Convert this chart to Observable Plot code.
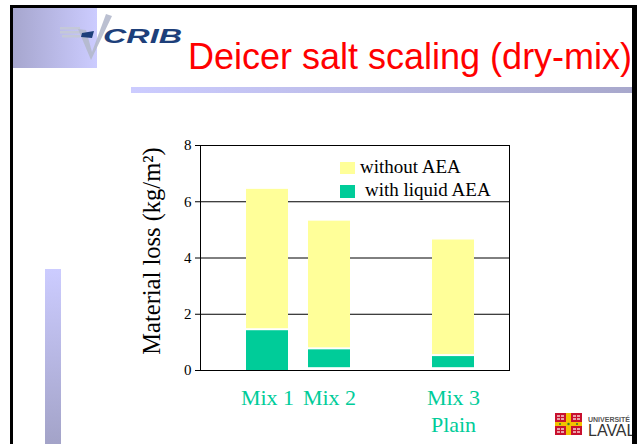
<!DOCTYPE html>
<html><head><meta charset="utf-8">
<script src="https://cdn.jsdelivr.net/npm/d3@7"></script>
<script src="https://cdn.jsdelivr.net/npm/@observablehq/plot@0.6"></script>
<style>
html,body{margin:0;padding:0;background:#fff;}
#slide{position:relative;width:642px;height:444px;overflow:hidden;background:#fff;}
.abs{position:absolute;}
.serif{font-family:'Liberation Serif','Times New Roman',serif;}
#chart{position:absolute;left:0;top:0;}
</style></head><body>
<div id="slide">
  <div class="abs" style="left:13px;top:8px;width:84px;height:60px;background:linear-gradient(to right,#a6a6ce,#ccccff);"></div>
  <svg class="abs" style="left:0;top:0" width="200" height="80">
    <g fill="#c4c8d8">
      <rect x="60" y="27" width="20" height="2.5"/>
      <rect x="60" y="31" width="20" height="2.5"/>
      <rect x="62" y="35" width="18" height="2.5"/>
    </g>
    <polygon points="78,29 86,30 92,52 106,14 112,16 91,60" fill="#b4b9cc" opacity="0.9"/>
    <polygon points="82,33 94,31 92,38 81,37" fill="#1d3f7a"/>
    <text x="103" y="43" font-family="'Liberation Sans',Arial,sans-serif" font-weight="bold" font-style="italic" font-size="21" fill="#1d3f7a" textLength="79" lengthAdjust="spacingAndGlyphs">CRIB</text>
  </svg>
  <div class="abs" style="left:188px;top:38.5px;font-family:'Liberation Sans',Arial,sans-serif;font-size:36px;line-height:36px;color:#ff0000;white-space:nowrap;">Deicer salt scaling (dry-mix)</div>
  <div class="abs" style="left:131px;top:87px;width:501px;height:6px;background:linear-gradient(to right,#ccccff,#a8a8cc);"></div>
  <div class="abs" style="left:45px;top:269px;width:16px;height:175px;background:linear-gradient(to bottom,#ccccff,#a3a3c8);"></div>
  <div id="chart"></div>
  <div class="abs" style="left:340px;top:162px;width:15px;height:12px;background:#ffff99;"></div>
  <div class="abs serif" style="left:360px;top:157px;font-size:19px;line-height:19px;white-space:nowrap;">without AEA</div>
  <div class="abs" style="left:340px;top:185px;width:15px;height:13px;background:#00cc99;"></div>
  <div class="abs serif" style="left:365px;top:180px;font-size:19px;line-height:19px;white-space:nowrap;">with liquid AEA</div>
  <svg class="abs" style="left:555px;top:412px" width="90" height="28">
    <rect x="0" y="1" width="27" height="22" fill="#c8102e"/>
    <rect x="11" y="1" width="5" height="22" fill="#f2c200"/>
    <rect x="0" y="10" width="27" height="4" fill="#f2c200"/>
    <g fill="#e9a0a8">
      <rect x="2" y="3" width="3" height="2"/><rect x="6" y="3" width="3" height="2"/>
      <rect x="18" y="3" width="3" height="2"/><rect x="22" y="3" width="3" height="2"/>
      <rect x="2" y="6" width="3" height="2"/><rect x="6" y="6" width="3" height="2"/>
      <rect x="18" y="6" width="3" height="2"/><rect x="22" y="6" width="3" height="2"/>
      <rect x="2" y="16" width="3" height="2"/><rect x="6" y="16" width="3" height="2"/>
      <rect x="18" y="16" width="3" height="2"/><rect x="22" y="16" width="3" height="2"/>
      <rect x="2" y="19" width="3" height="2"/><rect x="6" y="19" width="3" height="2"/>
      <rect x="18" y="19" width="3" height="2"/><rect x="22" y="19" width="3" height="2"/>
    </g>
    <g fill="#2e7d32"><circle cx="13.5" cy="12" r="1.2"/><circle cx="5" cy="12" r="1"/><circle cx="22" cy="12" r="1"/></g>
    <text x="33" y="10" font-family="'Liberation Sans',Arial,sans-serif" font-weight="bold" font-size="7" fill="#555">UNIVERSITÉ</text>
    <text x="33" y="24" font-family="'Liberation Sans',Arial,sans-serif" font-size="16" fill="#333">LAVAL</text>
  </svg>
  <div class="abs" style="left:10px;top:5px;width:627px;height:3px;background:#000;"></div>
  <div class="abs" style="left:10px;top:5px;width:3px;height:439px;background:#000;"></div>
  <div class="abs" style="left:632px;top:5px;width:5px;height:439px;background:#000;"></div>
</div>
<script>
const categories = ["Mix 1", "Mix 2", "Mix 3"];
const categoryLabels = ["Mix 1", "Mix 2", "Mix 3\nPlain"];
const xDomain = ["Mix 1", "Mix 2", "(gap)", "Mix 3"];
const baseValues = [0, 0.1, 0.1];
const withLiquidAEA = [1.45, 0.77, 0.53];
const withoutAEA = [6.44, 5.31, 4.64];
const yTicks = [0, 2, 4, 6, 8];
const gridValues = [2, 4, 6, 8];
const yLabel = "Material loss (kg/m²)";

const rows = categories.map((c, i) => ({
  cat: c, label: categoryLabels[i], base: baseValues[i], aea: withLiquidAEA[i], noaea: withoutAEA[i]
}));

const chart = Plot.plot({
  width: 642, height: 444,
  marginLeft: 200, marginRight: 133, marginTop: 145, marginBottom: 74,
  style: {background: "transparent", fontFamily: "'Liberation Serif','Times New Roman',serif", fontSize: "15px", color: "#000", overflow: "visible"},
  x: {type: "band", domain: xDomain, range: [244, 476], paddingInner: 0.317, paddingOuter: 0, axis: null},
  y: {domain: [0, 8], ticks: yTicks, tickSize: 5, tickPadding: 4, label: null},
  marks: [
    Plot.ruleY(gridValues, {stroke: "#000", strokeWidth: 1}),
    Plot.frame({stroke: "#000"}),
    Plot.barY(rows, {x: "cat", y1: "aea", y2: "noaea", fill: "#ffff99", insetBottom: 1}),
    Plot.barY(rows, {x: "cat", y1: "base", y2: "aea", fill: "#00cc99", insetTop: 1}),
    Plot.text(rows, {x: "cat", text: "label", frameAnchor: "bottom", lineAnchor: "top", dy: 16, fill: "#00cc99", fontSize: 22, lineHeight: 1.2}),
    Plot.text([yLabel], {text: d => d, frameAnchor: "left", textAnchor: "middle", lineAnchor: "middle", rotate: -90, dx: -48, dy: -7, fontSize: 24.5, fill: "#000"})
  ]
});
document.getElementById("chart").appendChild(chart);
</script>
</body></html>
